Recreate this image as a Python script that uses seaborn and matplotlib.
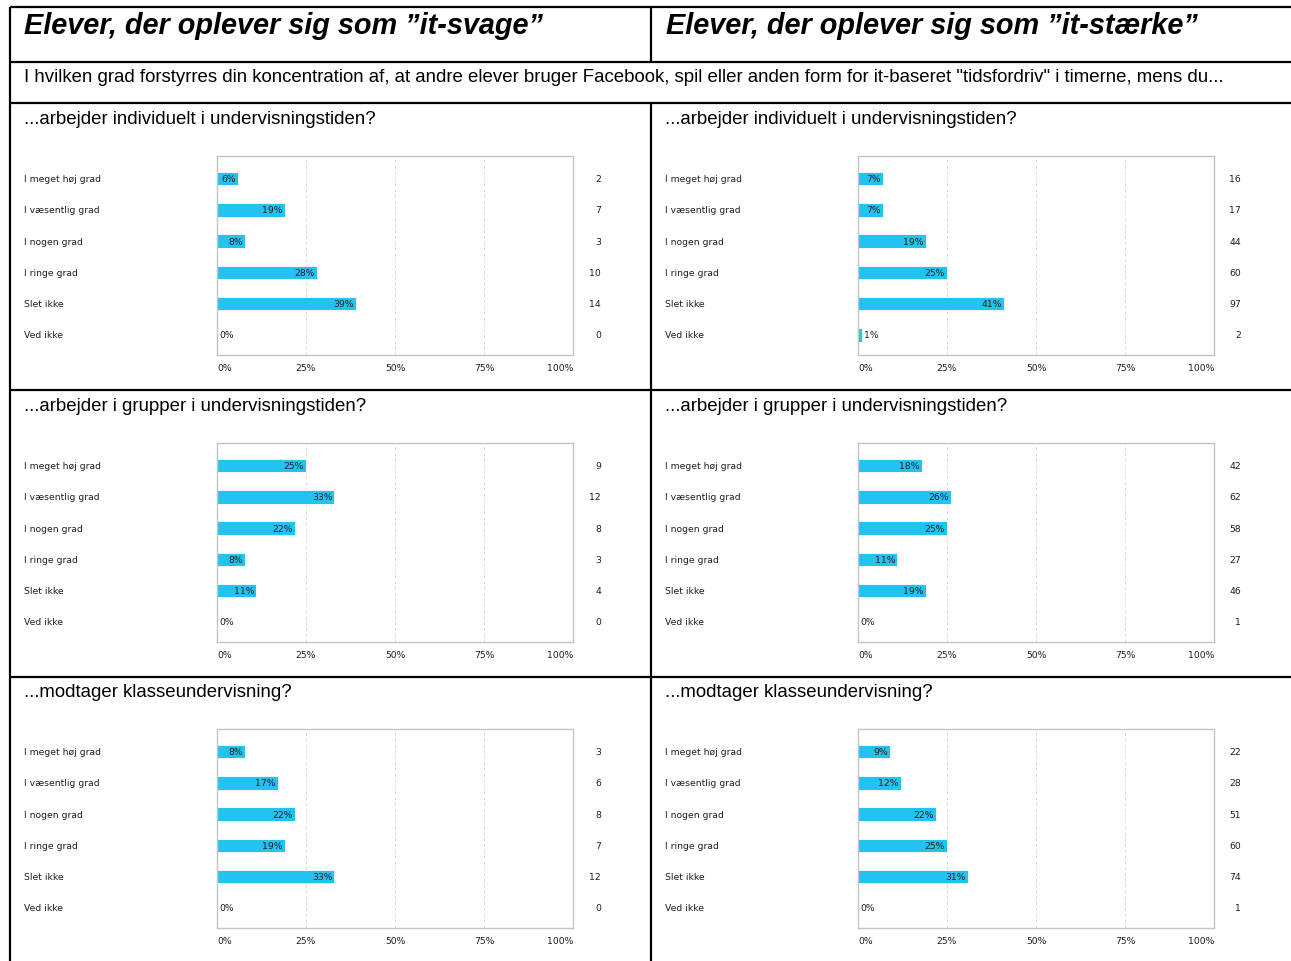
import matplotlib
matplotlib.use("Agg")
import matplotlib.pyplot as plt
from matplotlib.lines import Line2D
from matplotlib.transforms import blended_transform_factory
import seaborn as sns

sns.set_theme(style="white")
plt.rcParams["font.family"] = ["DejaVu Sans"]
plt.rcParams["text.color"] = "black"

# Answer categories and panel texts
categories = ["I meget høj grad", "I væsentlig grad", "I nogen grad",
              "I ringe grad", "Slet ikke", "Ved ikke"]
headers = ["Elever, der oplever sig som \u201dit-svage\u201d",
           "Elever, der oplever sig som \u201dit-stærke\u201d"]
question = ('I hvilken grad forstyrres din koncentration af, at andre elever bruger '
            'Facebook, spil eller anden form for it-baseret "tidsfordriv" i timerne, mens du...')
situations = ["...arbejder individuelt i undervisningstiden?",
              "...arbejder i grupper i undervisningstiden?",
              "...modtager klasseundervisning?"]
tick_labels = ["0%", "25%", "50%", "75%", "100%"]

# Percentages (bar lengths) and respondent counts, it-svage
svag_individuelt_pct = [6, 19, 8, 28, 39, 0]
svag_individuelt_n = [2, 7, 3, 10, 14, 0]
svag_grupper_pct = [25, 33, 22, 8, 11, 0]
svag_grupper_n = [9, 12, 8, 3, 4, 0]
svag_klasse_pct = [8, 17, 22, 19, 33, 0]
svag_klasse_n = [3, 6, 8, 7, 12, 0]

# Percentages and respondent counts, it-stærke
staerk_individuelt_pct = [7, 7, 19, 25, 41, 1]
staerk_individuelt_n = [16, 17, 44, 60, 97, 2]
staerk_grupper_pct = [18, 26, 25, 11, 19, 0]
staerk_grupper_n = [42, 62, 58, 27, 46, 1]
staerk_klasse_pct = [9, 12, 22, 25, 31, 0]
staerk_klasse_n = [22, 28, 51, 60, 74, 1]

panels = [
    [(svag_individuelt_pct, svag_individuelt_n), (staerk_individuelt_pct, staerk_individuelt_n)],
    [(svag_grupper_pct, svag_grupper_n), (staerk_grupper_pct, staerk_grupper_n)],
    [(svag_klasse_pct, svag_klasse_n), (staerk_klasse_pct, staerk_klasse_n)],
]

W, H = 1291, 962
BAR = "#22C3F0"
SMALL = 6.65
SMALL_COLOR = "#1e1e1e"
fig = plt.figure(figsize=(W / 100, H / 100), dpi=100)
fig.patch.set_facecolor("white")


def fx(x):
    return x / W


def fy(y):
    return 1 - y / H


def hline(y, x0=10, x1=W):
    fig.add_artist(Line2D([fx(x0), fx(x1)], [fy(y), fy(y)], color="black", lw=1.6,
                          solid_capstyle="butt"))


def vline(x, y0, y1):
    fig.add_artist(Line2D([fx(x), fx(x)], [fy(y0), fy(y1)], color="black", lw=1.6,
                          solid_capstyle="butt"))


# Table grid
for y in (8, 63, 104, 391, 678):
    hline(y)
vline(10, 8, H)
vline(651, 8, 63)
vline(651, 104, H)

hfont = dict(family=["Liberation Sans", "DejaVu Sans"], color="black")
fig.text(fx(24), fy(26), headers[0], fontsize=20.8, fontweight="bold", fontstyle="italic",
         va="center", ha="left", **hfont)
fig.text(fx(666), fy(26), headers[1], fontsize=20.8, fontweight="bold", fontstyle="italic",
         va="center", ha="left", **hfont)
fig.text(fx(24), fy(77.5), question, fontsize=13.4, va="center", ha="left", **hfont)

col_x = [(24, 217, 573, 601), (665, 858, 1214, 1241)]
row_y = [(119.5, 157), (406.5, 444), (692.5, 730)]
AX_H = 199

for r, (title_y, ax_top) in enumerate(row_y):
    for c, (lab_x, ax_l, ax_r, n_x) in enumerate(col_x):
        pct, counts = panels[r][c]
        fig.text(fx(lab_x), fy(title_y), situations[r], fontsize=13.4, va="center",
                 ha="left", **hfont)
        ax = fig.add_axes([fx(ax_l), fy(ax_top + AX_H), (ax_r - ax_l) / W, AX_H / H])
        sns.barplot(x=pct, y=categories, orient="h", color=BAR, width=0.43,
                    errorbar=None, edgecolor="white", linewidth=0.6, saturation=1, ax=ax)
        ax.set_xlim(0, 100)
        ax.set_ylim(5.64, -0.72)
        ax.set_xlabel("")
        ax.set_ylabel("")
        ax.set_yticks([])
        ax.set_xticks([0, 25, 50, 75, 100])
        ax.set_xticklabels(tick_labels, fontsize=SMALL, color=SMALL_COLOR)
        for i, t in enumerate(ax.get_xticklabels()):
            t.set_ha("left" if i == 0 else ("right" if i == 4 else "center"))
        ax.tick_params(axis="x", length=0, pad=5.5)
        ax.grid(axis="x", color="#d8d8d8", linestyle=(0, (3, 3)), linewidth=0.7)
        ax.grid(axis="y", visible=False)
        ax.set_axisbelow(True)
        for s in ax.spines.values():
            s.set_color("#c4c4c4")
            s.set_linewidth(1.0)
            s.set_visible(True)

        tr = blended_transform_factory(fig.transFigure, ax.transData)
        for i, (cat, p, n) in enumerate(zip(categories, pct, counts)):
            ax.text(fx(lab_x), i, cat, transform=tr, fontsize=SMALL, va="center",
                    ha="left", color=SMALL_COLOR)
            ax.text(fx(n_x), i, str(n), transform=tr, fontsize=SMALL, va="center",
                    ha="right", color=SMALL_COLOR)
            if p >= 5:
                ax.text(p - 0.6, i, f"{p}%", fontsize=SMALL, va="center", ha="right",
                        color=SMALL_COLOR)
            else:
                ax.text(p + 0.6, i, f"{p}%", fontsize=SMALL, va="center", ha="left",
                        color=SMALL_COLOR)

fig.savefig("out.png", dpi=100, facecolor="white")
